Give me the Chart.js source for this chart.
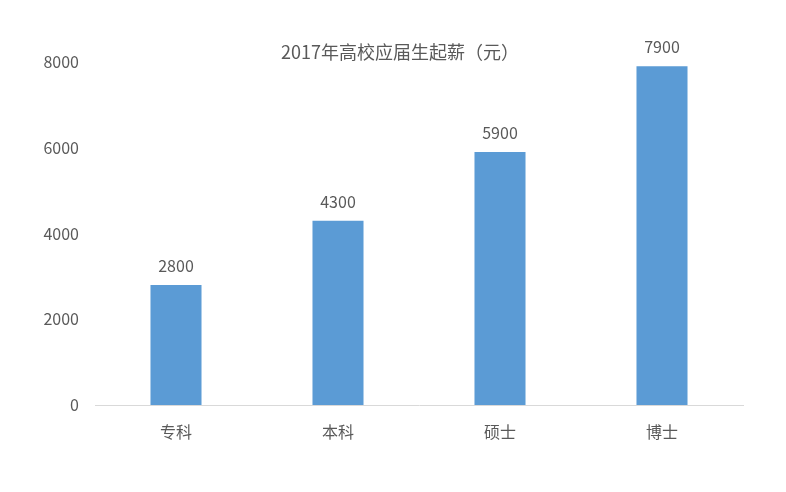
<!DOCTYPE html>
<html>
<head>
<meta charset="utf-8">
<script src="https://cdn.jsdelivr.net/npm/chart.js@4/dist/chart.umd.min.js"></script>
<style>
  html, body { margin: 0; padding: 0; background: #fff; }
  #wrap { width: 786px; height: 492px; }
</style>
</head>
<body>
<div id="wrap"><canvas id="salaryChart" width="786" height="492"></canvas></div>
<script>
// ===== Data =====
const categories = ['专科', '本科', '硕士', '博士'];
const salaries = [2800, 4300, 5900, 7900];
const yTicks = [0, 2000, 4000, 6000, 8000];
const chartTitle = '2017年高校应届生起薪（元）';

const textColor = '#595959';
const fontFamily = '"Noto Sans CJK SC", "Noto Sans", sans-serif';

// ===== Title + value labels =====
const labelPlugin = {
  id: 'labelPlugin',
  afterDraw(chart) {
    const ctx = chart.ctx;
    ctx.save();
    ctx.fillStyle = textColor;
    ctx.textBaseline = 'middle';

    ctx.font = '18px ' + fontFamily;
    ctx.textAlign = 'left';
    ctx.fillText(chartTitle, 281, 52);

    ctx.textAlign = 'center';
    ctx.font = '16px ' + fontFamily;
    const meta = chart.getDatasetMeta(0);
    meta.data.forEach((bar, i) => {
      ctx.fillText(String(salaries[i]), bar.x, bar.y - 19);
    });
    ctx.restore();
  }
};

const ctx = document.getElementById('salaryChart').getContext('2d');
new Chart(ctx, {
  type: 'bar',
  data: {
    labels: categories,
    datasets: [{
      data: salaries,
      backgroundColor: '#5B9BD5',
      categoryPercentage: 1,
      barPercentage: 0.315
    }]
  },
  options: {
    responsive: false,
    animation: false,
    layout: { padding: { top: 62, right: 43, bottom: 0, left: 0 } },
    plugins: {
      legend: { display: false },
      tooltip: { enabled: false },
      title: { display: false }
    },
    scales: {
      x: {
        grid: { display: false, drawTicks: false },
        border: { display: true, color: '#d9d9d9', width: 1 },
        ticks: { color: textColor, font: { family: fontFamily, size: 16 }, padding: 17 },
        afterFit(scale) { scale.height = 87; }
      },
      y: {
        min: 0,
        max: yTicks[yTicks.length - 1],
        afterBuildTicks(scale) { scale.ticks = yTicks.map(v => ({ value: v })); },
        grid: { display: false, drawTicks: false },
        border: { display: false },
        ticks: {
          color: textColor,
          font: { family: fontFamily, size: 16 },
          padding: 16,
          callback: v => String(v)
        },
        afterFit(scale) { scale.width = 95; }
      }
    }
  },
  plugins: [labelPlugin]
});
</script>
</body>
</html>
